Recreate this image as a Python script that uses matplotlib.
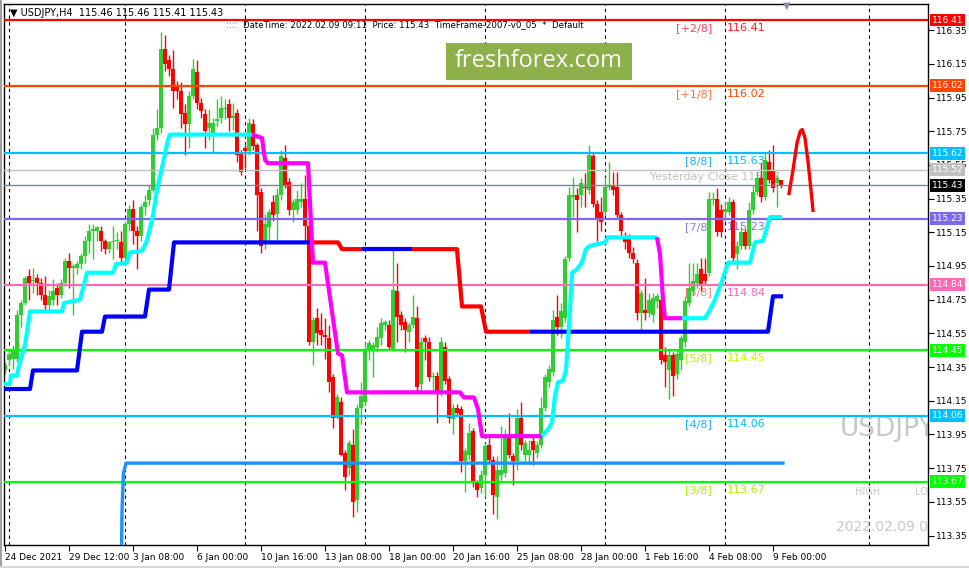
import matplotlib
matplotlib.use('Agg')
import matplotlib.pyplot as plt
import matplotlib.transforms as mtransforms
from matplotlib.patches import Rectangle

# USDJPY H4 candles (bar 0 = 24 Dec 2021 00:00, bar 194 = 9 Feb 2022 08:00)
opens = [114.33, 114.39, 114.40, 114.40, 114.66, 114.73, 114.89, 114.86, 114.88, 114.85,
         114.78, 114.72, 114.75, 114.82, 114.78, 114.85, 114.98, 114.94, 114.94, 114.96,
         115.01, 115.10, 115.16, 115.16, 115.16, 115.10, 115.05, 115.09, 115.10, 115.09,
         115.00, 115.20, 115.29, 115.16, 115.13, 115.30, 115.34, 115.40, 115.73, 115.77,
         116.24, 116.17, 116.12, 116.02, 115.99, 115.86, 115.79, 115.96, 116.10, 115.92,
         115.85, 115.77, 115.74, 115.81, 115.83, 115.88, 115.91, 115.83, 115.86, 115.62,
         115.65, 115.63, 115.79, 115.67, 115.39, 115.09, 115.18, 115.33, 115.26, 115.37,
         115.59, 115.45, 115.28, 115.28, 115.33, 115.35, 115.19, 114.50, 114.64, 114.57,
         114.54, 114.52, 114.29, 114.05, 114.14, 113.84, 113.75, 113.89, 113.56, 114.11,
         114.14, 114.46, 114.45, 114.47, 114.52, 114.60, 114.60, 114.46, 114.80, 114.66,
         114.62, 114.56, 114.60, 114.64, 114.25, 114.52, 114.50, 114.29, 114.30, 114.20,
         114.47, 114.28, 114.04, 114.11, 114.10, 113.79, 113.83, 113.97, 113.66, 113.63,
         113.71, 113.89, 113.80, 113.58, 113.71, 113.72, 113.94, 113.82, 113.79, 114.05,
         113.83, 113.83, 113.91, 113.84, 113.89, 114.11, 114.26, 114.32, 114.65, 114.59,
         114.64, 115.00, 115.36, 115.37, 115.37, 115.42, 115.40, 115.60, 115.32, 115.27,
         115.27, 115.42, 115.43, 115.42, 115.25, 115.13, 115.12, 115.03, 114.97, 114.67,
         114.69, 114.67, 114.66, 114.74, 114.75, 114.42, 114.33, 114.42, 114.31, 114.39,
         114.50, 114.73, 114.80, 114.85, 114.93, 114.90, 114.91, 115.34, 115.35, 115.28,
         115.27, 115.27, 115.33, 115.02, 115.07, 115.15, 115.07, 115.28, 115.39, 115.47,
         115.36, 115.57, 115.52, 115.44, 115.46]
highs = [114.38, 114.45, 114.48, 114.69, 114.75, 114.89, 114.93, 114.94, 114.90, 114.88,
         114.89, 114.81, 114.87, 114.85, 114.87, 115.00, 115.03, 114.96, 114.98, 115.03,
         115.13, 115.20, 115.20, 115.19, 115.19, 115.11, 115.10, 115.19, 115.15, 115.16,
         115.22, 115.31, 115.34, 115.19, 115.32, 115.37, 115.43, 115.77, 115.88, 116.34,
         116.32, 116.20, 116.23, 116.05, 116.04, 115.91, 115.99, 116.18, 116.17, 115.95,
         115.88, 115.88, 115.83, 115.94, 115.96, 115.94, 115.94, 115.92, 115.88, 115.64,
         115.67, 115.83, 115.82, 115.68, 115.41, 115.26, 115.29, 115.37, 115.41, 115.64,
         115.67, 115.47, 115.35, 115.40, 115.44, 115.49, 115.22, 114.65, 114.70, 114.67,
         114.64, 114.60, 114.31, 114.19, 114.17, 113.86, 113.92, 113.98, 114.13, 114.26,
         114.50, 114.51, 114.50, 114.59, 114.64, 114.63, 114.63, 115.05, 114.97, 114.68,
         114.64, 114.62, 114.78, 114.71, 114.53, 114.54, 114.53, 114.32, 114.32, 114.53,
         114.50, 114.30, 114.13, 114.13, 114.12, 113.87, 114.02, 113.99, 113.68, 113.74,
         113.90, 113.93, 113.82, 113.82, 114.00, 113.98, 114.08, 113.84, 114.10, 114.14,
         113.92, 113.92, 113.94, 113.91, 114.17, 114.31, 114.36, 114.69, 114.78, 114.73,
         115.01, 115.42, 115.48, 115.41, 115.47, 115.50, 115.67, 115.62, 115.34, 115.36,
         115.48, 115.57, 115.51, 115.51, 115.27, 115.15, 115.14, 115.06, 114.99, 114.81,
         114.88, 114.79, 114.79, 114.79, 114.76, 114.47, 114.45, 114.44, 114.45, 114.54,
         114.77, 114.97, 114.97, 114.97, 115.00, 115.00, 115.39, 115.39, 115.41, 115.32,
         115.33, 115.36, 115.35, 115.10, 115.18, 115.17, 115.33, 115.43, 115.51, 115.56,
         115.62, 115.64, 115.67, 115.49, 115.46]
lows = [114.31, 114.36, 114.34, 114.38, 114.59, 114.72, 114.75, 114.79, 114.78, 114.75,
        114.69, 114.69, 114.72, 114.72, 114.76, 114.83, 114.82, 114.66, 114.90, 114.93,
        114.97, 115.03, 114.99, 115.10, 115.04, 115.02, 115.03, 114.99, 115.05, 114.97,
        114.97, 115.16, 115.08, 114.93, 115.10, 115.25, 115.31, 115.39, 115.70, 115.74,
        116.11, 116.08, 115.89, 115.94, 115.77, 115.61, 115.65, 115.94, 115.88, 115.83,
        115.65, 115.70, 115.62, 115.78, 115.80, 115.82, 115.75, 115.76, 115.57, 115.49,
        115.53, 115.61, 115.64, 115.16, 115.03, 115.05, 115.10, 115.22, 115.10, 115.34,
        115.41, 115.25, 115.21, 115.26, 115.30, 115.09, 114.48, 114.36, 114.48, 114.48,
        114.40, 114.20, 113.99, 114.04, 113.82, 113.62, 113.71, 113.46, 113.49, 114.01,
        114.12, 114.39, 114.29, 114.44, 114.48, 114.57, 114.45, 114.45, 114.50, 114.57,
        114.44, 114.50, 114.58, 114.20, 114.20, 114.39, 114.27, 114.20, 114.02, 114.18,
        114.25, 114.02, 113.95, 114.06, 113.73, 113.61, 113.80, 113.64, 113.58, 113.60,
        113.58, 113.78, 113.48, 113.45, 113.68, 113.70, 113.81, 113.65, 113.74, 113.86,
        113.79, 113.78, 113.77, 113.81, 113.87, 114.09, 114.23, 114.30, 114.54, 114.52,
        114.62, 114.98, 115.24, 115.15, 115.30, 115.30, 115.38, 115.30, 115.10, 115.16,
        115.25, 115.40, 115.37, 115.23, 115.13, 115.05, 115.00, 114.97, 114.63, 114.57,
        114.63, 114.65, 114.62, 114.70, 114.37, 114.23, 114.16, 114.18, 114.28, 114.33,
        114.47, 114.71, 114.78, 114.82, 114.80, 114.84, 114.89, 115.31, 115.13, 115.12,
        115.22, 115.25, 114.97, 114.93, 115.05, 115.05, 115.05, 115.26, 115.37, 115.33,
        115.34, 115.44, 115.39, 115.30, 115.41]
closes = [114.36, 114.43, 114.46, 114.66, 114.73, 114.88, 114.85, 114.865, 114.85, 114.78,
          114.72, 114.77, 114.80, 114.78, 114.85, 114.98, 114.94, 114.95, 114.96, 115.01,
          115.10, 115.16, 115.17, 115.18, 115.10, 115.05, 115.09, 115.10, 115.10, 115.00,
          115.20, 115.29, 115.16, 115.13, 115.30, 115.33, 115.40, 115.73, 115.77, 116.24,
          116.15, 116.12, 115.99, 115.99, 115.85, 115.79, 115.96, 116.12, 115.92, 115.87,
          115.75, 115.80, 115.80, 115.82, 115.89, 115.89, 115.83, 115.84, 115.61, 115.51,
          115.63, 115.80, 115.66, 115.37, 115.07, 115.20, 115.27, 115.25, 115.37, 115.60,
          115.43, 115.28, 115.33, 115.35, 115.35, 115.19, 114.50, 114.63, 114.55, 114.54,
          114.53, 114.26, 114.05, 114.17, 113.83, 113.70, 113.90, 113.55, 114.11, 114.18,
          114.45, 114.49, 114.48, 114.53, 114.61, 114.62, 114.47, 114.81, 114.65, 114.60,
          114.57, 114.60, 114.65, 114.23, 114.50, 114.50, 114.29, 114.30, 114.20, 114.50,
          114.27, 114.05, 114.11, 114.08, 113.79, 113.85, 113.96, 113.67, 113.62, 113.71,
          113.88, 113.80, 113.59, 113.74, 113.74, 113.94, 113.83, 113.79, 114.05, 113.89,
          113.90, 113.86, 113.86, 113.89, 114.11, 114.29, 114.34, 114.63, 114.59, 114.68,
          114.99, 115.37, 115.37, 115.34, 115.44, 115.41, 115.61, 115.32, 115.23, 115.21,
          115.42, 115.43, 115.40, 115.25, 115.16, 115.09, 115.03, 114.99, 114.67, 114.79,
          114.67, 114.75, 114.76, 114.77, 114.39, 114.38, 114.42, 114.30, 114.43, 114.52,
          114.74, 114.82, 114.86, 114.90, 114.83, 114.86, 115.35, 115.35, 115.15, 115.15,
          115.29, 115.33, 115.00, 115.07, 115.15, 115.07, 115.28, 115.39, 115.47, 115.36,
          115.58, 115.46, 115.41, 115.47, 115.43]

# Murrey math levels and their right-axis tags
levels = [116.41, 116.02, 115.62, 115.23, 114.84, 114.45, 114.06, 113.67]
level_colors = ['#ff0000', '#ff4500', '#00bfff', '#7b68ee', '#ff69b4', '#00ff00', '#00bfff', '#00ff00']
level_tags = ['[+2/8]', '[+1/8]', '[8/8]', '[7/8]', '[6/8]', '[5/8]', '[4/8]', '[3/8]']
level_texts = ['116.41', '116.02', '115.63', '115.23', '114.84', '114.45', '114.06', '113.67']
tag_colors = ['#ff4060', '#ff7040', '#20b0ff', '#8a80f0', '#f08080', '#b0f000', '#20b0ff', '#b0f000']
text_colors = ['#ff2020', '#ff4500', '#00bfff', '#8070ee', '#ff69b4', '#c0ff00', '#00bfff', '#b0f000']
yesterday_close = 115.52
last_price = 115.43

# fast trailing line (cyan = up, magenta = down)
fast_segments = [
    ('#00ffff', [-0.25, 1.25, 1.5, 3, 3.5, 5, 6.25, 14.25, 14.75, 18.75, 19.75, 20.5, 27, 27.75,
                 30.5, 31.25, 34.25, 35.5, 37, 38, 39.5, 40.75, 41.25, 61.75],
     [114.25, 114.25, 114.30, 114.30, 114.36, 114.48, 114.68, 114.68, 114.73, 114.75, 114.84, 114.91,
      114.91, 114.96, 114.97, 115.03, 115.04, 115.10, 115.25, 115.40, 115.56, 115.70, 115.73, 115.73]),
    ('#ff00ff', [61.75, 64.25, 65, 65.75, 75.75, 77, 80, 83.25, 84.25, 85.5, 113.75, 114.75, 117.25,
                 118.25, 119.25, 134.25],
     [115.73, 115.71, 115.58, 115.56, 115.56, 114.97, 114.97, 114.43, 114.42, 114.20, 114.20, 114.17,
      114.17, 114.10, 113.94, 113.94]),
    ('#00ffff', [134.25, 135.75, 136.75, 137.5, 138.25, 139.5, 140.25, 141.25, 141.75, 143, 144.25,
                 145.25, 146.25, 150, 150.75, 163],
     [113.94, 113.98, 114.02, 114.18, 114.26, 114.27, 114.33, 114.69, 114.91, 114.93, 114.97, 115.05,
      115.07, 115.09, 115.12, 115.12]),
    ('#ff00ff', [163, 163.75, 164.5, 165, 169.25],
     [115.12, 115.02, 114.75, 114.64, 114.64]),
    ('#00ffff', [169.25, 175, 176.25, 177.5, 179.25, 180.75, 186.25, 187.5, 189.5, 191.25, 194.25],
     [114.64, 114.64, 114.69, 114.75, 114.86, 114.97, 114.97, 115.09, 115.10, 115.24, 115.24]),
]

# slow trailing line (blue = up, red = down)
slow_segments = [
    ('#0000ff', [-0.25, 6.25, 7, 18, 19.25, 24.25, 25, 35, 36, 41, 42.25, 77],
     [114.22, 114.22, 114.33, 114.33, 114.56, 114.56, 114.65, 114.65, 114.81, 114.81, 115.09, 115.09]),
    ('#ff0000', [77, 83.25, 84.25, 89.25], [115.09, 115.09, 115.05, 115.05]),
    ('#0000ff', [89.25, 101.75], [115.05, 115.05]),
    ('#ff0000', [101.75, 113, 114.25, 119, 120.25, 131.25],
     [115.05, 115.05, 114.71, 114.71, 114.56, 114.56]),
    ('#0000ff', [131.25, 190.75, 192, 194.5], [114.56, 114.56, 114.77, 114.77]),
]

# long-term line at the bottom
long_x = [29, 29.25, 29.6, 30.25, 194.5]
long_y = [113.0, 113.5, 113.72, 113.78, 113.78]

# projected path drawn after the last bar
proj_x = [196, 197, 198, 198.8, 199.3, 200, 200.8, 201.5, 202]
proj_y = [115.38, 115.52, 115.68, 115.75, 115.76, 115.71, 115.56, 115.40, 115.28]

tick_bars = [0, 16, 32, 48, 64, 80, 96, 112, 128, 144, 160, 176, 192]
tick_names = ['24 Dec 2021', '29 Dec 12:00', '3 Jan 08:00', '6 Jan 00:00', '10 Jan 16:00',
              '13 Jan 08:00', '18 Jan 00:00', '20 Jan 16:00', '25 Jan 08:00', '28 Jan 00:00',
              '1 Feb 16:00', '4 Feb 08:00', '9 Feb 00:00']
grid_bars = [1, 30, 60, 90, 120, 150, 180, 216]
price_ticks = [116.35, 116.15, 115.95, 115.75, 115.55, 115.35, 115.15, 114.95,
               114.75, 114.55, 114.35, 114.15, 113.95, 113.75, 113.55, 113.35]

W, H = 970, 568
fig = plt.figure(figsize=(W / 100, H / 100), dpi=100)
fig.patch.set_facecolor('white')
ax = fig.add_axes([4 / W, 23 / H, 924 / W, 541 / H])
ax.set_xlim(-0.25, 230.75)
ax.set_ylim(113.294, 116.505)

# window frame (grey edges as in the terminal)
fig.patches.append(Rectangle((0, 0), 2.5 / W, 1, transform=fig.transFigure,
                             facecolor='#a0a0a0', edgecolor='none'))
fig.patches.append(Rectangle((0, 0), 1, 2 / H, transform=fig.transFigure,
                             facecolor='#d8d8d8', edgecolor='none'))

# dashed vertical grid
for b in grid_bars:
    ax.axvline(b, color='black', lw=0.8, ls=(0, (3, 3)), zorder=0.5)

# level labels (under the candles)
for lv, tg, tx, tc, vc in zip(levels, level_tags, level_texts, tag_colors, text_colors):
    ax.annotate(tg, (176.8, lv), xytext=(0, -8), textcoords='offset pixels', ha='right',
                va='center', fontsize=8, color=tc, zorder=1)
    ax.annotate(tx, (180.4, lv), xytext=(0, -8), textcoords='offset pixels', ha='left',
                va='center', fontsize=8, color=vc, zorder=1)
ax.annotate('Yesterday Close 115.07', (193.8, yesterday_close), xytext=(0, -7),
            textcoords='offset pixels', ha='right', va='center', fontsize=8,
            color='#c0c0c0', zorder=1)

# candles
for i in range(len(opens)):
    o, h, l, c = opens[i], highs[i], lows[i], closes[i]
    col = '#32cd32' if c >= o else '#ff0000'
    ax.vlines(i, l, h, color=col, lw=1.0, zorder=2)
    ax.bar(i, max(abs(c - o), 0.007), bottom=min(o, c), width=0.8, color=col,
           lw=0, zorder=2.1)

# horizontal levels
for lv, col in zip(levels, level_colors):
    ax.axhline(lv, color=col, lw=1.6, zorder=3)
ax.axhline(yesterday_close, color='#c0c0c0', lw=1, zorder=3)
ax.axhline(last_price, color='#778899', lw=1, zorder=3)

# indicator lines
for col, xs, ys in slow_segments:
    ax.plot(xs, ys, color=col, lw=3, solid_capstyle='butt', zorder=4)
for col, xs, ys in fast_segments:
    ax.plot(xs, ys, color=col, lw=3, solid_capstyle='butt', zorder=4)
ax.plot(long_x, long_y, color='#1e90ff', lw=2.4, zorder=4)
ax.plot(proj_x, proj_y, color='#ff0000', lw=2.4, zorder=4)

# faded info on the right side (cut by the chart edge)
ax.text(208.75, 113.98, 'USDJPY', fontsize=19, color='#c8c8c8', va='center', ha='left',
        clip_on=True, zorder=1)
ax.text(212.5, 113.61, 'HIGH', fontsize=7, color='#c8c8c8', va='center', ha='left',
        clip_on=True, zorder=1)
ax.text(227.5, 113.61, 'LO', fontsize=7, color='#c8c8c8', va='center', ha='left',
        clip_on=True, zorder=1)
ax.text(207.75, 113.40, '2022.02.09 0', fontsize=10, color='#c8c8c8', va='center',
        ha='left', clip_on=True, zorder=1)

# axes styling
for s in ax.spines.values():
    s.set_color('black')
    s.set_linewidth(1)
ax.set_xticks(tick_bars)
ax.set_xticklabels(tick_names)
for lbl in ax.get_xticklabels():
    lbl.set_ha('left')
ax.set_yticks(price_ticks)
ax.set_yticklabels([f'{p:.2f}' for p in price_ticks])
ax.yaxis.tick_right()
ax.tick_params(axis='y', direction='out', length=4, labelsize=6.5, pad=2, width=0.8)
ax.tick_params(axis='x', direction='out', length=4, labelsize=6.5, pad=2, width=0.8)

# coloured price tags on the right axis
trans = mtransforms.blended_transform_factory(ax.transAxes, ax.transData)
tags = list(zip(levels, level_colors)) + [(yesterday_close, '#c0c0c0'), (last_price, '#000000')]
for lv, col in tags:
    ax.text(1.004, lv, f'{lv:.2f}', transform=trans, ha='left', va='center', fontsize=6.5,
            color='white', clip_on=False, zorder=10,
            bbox=dict(boxstyle='square,pad=0.22', fc=col, ec='none'))

# header texts
fig.text(10 / W, 1 - 13 / H, '\u25bc USDJPY,H4  115.46 115.46 115.41 115.43', fontsize=7,
         va='center', ha='left', color='black')
fig.text(226 / W, 1 - 25 / H, '::::', fontsize=6.5, va='center', ha='left', color='#8040c0')
fig.text(243 / W, 1 - 25 / H,
         'DateTime: 2022.02.09 09:11  Price: 115.43  TimeFrame-2007-v0_05  *  Default',
         fontsize=6.2, va='center', ha='left', color='black')

# freshforex logo box
fig.patches.append(Rectangle((446 / W, 1 - 80 / H), 186 / W, 37 / H, transform=fig.transFigure,
                             facecolor='#8db04a', edgecolor='none', zorder=20))
fig.text(539 / W, 1 - 61 / H, 'freshforex.com', fontsize=17, color='white', ha='center',
         va='center', family='Open Sans', zorder=21)

# chart shift marker
fig.text(787 / W, 1 - 6 / H, '\u25bc', fontsize=7, color='#8090a0', ha='center', va='center')

fig.savefig('out.png', dpi=100)
